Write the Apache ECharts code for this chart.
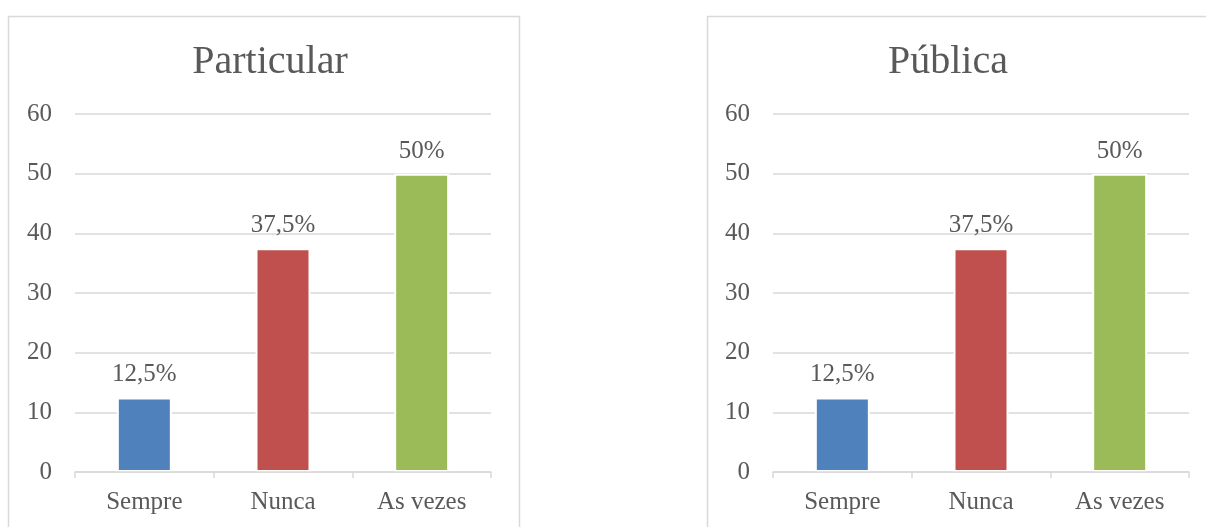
<!DOCTYPE html>
<html>
<head>
<meta charset="utf-8">
<script src="https://cdn.jsdelivr.net/npm/echarts@6/dist/echarts.min.js"></script>
<style>
html,body{margin:0;padding:0;background:#fff;}
#c{width:1206px;height:527px;}
</style>
</head>
<body>
<div id="c"></div>
<script>
var categories = ['Sempre', 'Nunca', 'As vezes'];
var titles = ['Particular', 'Pública'];
var particularValues = [12.5, 37.5, 50];
var publicaValues = [12.5, 37.5, 50];
var valueLabels = ['12,5%', '37,5%', '50%'];
var barColors = ['#4f81bd', '#c0504d', '#9bbb59'];

var FONT = 'Liberation Serif';
var TXT = '#595959';
var GRIDC = '#d9d9d9';

var grids = [
  {left: 75, right: 715, top: 114, bottom: 55},
  {left: 773, right: 17, top: 114, bottom: 55}
];

function makeData(vals) {
  return vals.map(function (v, i) {
    return {value: v, itemStyle: {color: barColors[i]}, label: {formatter: valueLabels[i]}};
  });
}

var series = [particularValues, publicaValues].map(function (vals, k) {
  return {
    type: 'bar',
    xAxisIndex: k,
    yAxisIndex: k,
    barWidth: 55,
    data: makeData(vals),
    itemStyle: {borderColor: '#ffffff', borderWidth: 2},
    label: {show: true, position: 'top', distance: 10, color: TXT, fontFamily: FONT, fontSize: 25},
    silent: true,
    animation: false
  };
});

var xAxes = [0, 1].map(function (k) {
  return {
    type: 'category', gridIndex: k, data: categories, z: 5,
    axisLine: {show: true, lineStyle: {color: GRIDC, width: 1.5}},
    axisTick: {show: true, length: 6, lineStyle: {color: GRIDC, width: 1.5}},
    axisLabel: {color: TXT, fontFamily: FONT, fontSize: 25, margin: 18}
  };
});
var yAxes = [0, 1].map(function (k) {
  return {
    type: 'value', gridIndex: k, min: 0, max: 60, interval: 10,
    axisLine: {show: false}, axisTick: {show: false},
    splitLine: {show: true, lineStyle: {color: GRIDC, width: 1.5}},
    axisLabel: {color: TXT, fontFamily: FONT, fontSize: 25, margin: 23}
  };
});

var chart = echarts.init(document.getElementById('c'), null, {renderer: 'canvas'});
chart.setOption({
  backgroundColor: '#ffffff',
  animation: false,
  title: [
    {text: titles[0], left: 265, top: 37, textAlign: 'center',
     textStyle: {color: TXT, fontFamily: FONT, fontSize: 40, fontWeight: 'normal'}},
    {text: titles[1], left: 943, top: 37, textAlign: 'center',
     textStyle: {color: TXT, fontFamily: FONT, fontSize: 40, fontWeight: 'normal'}}
  ],
  graphic: [
    {type: 'rect', shape: {x: 8.5, y: 16.5, width: 511, height: 530}, style: {fill: null, stroke: GRIDC, lineWidth: 1.5}, z: -10},
    {type: 'rect', shape: {x: 707.5, y: 16.5, width: 520, height: 530}, style: {fill: null, stroke: GRIDC, lineWidth: 1.5}, z: -10}
  ],
  grid: grids,
  xAxis: xAxes,
  yAxis: yAxes,
  series: series
});
</script>
</body>
</html>
